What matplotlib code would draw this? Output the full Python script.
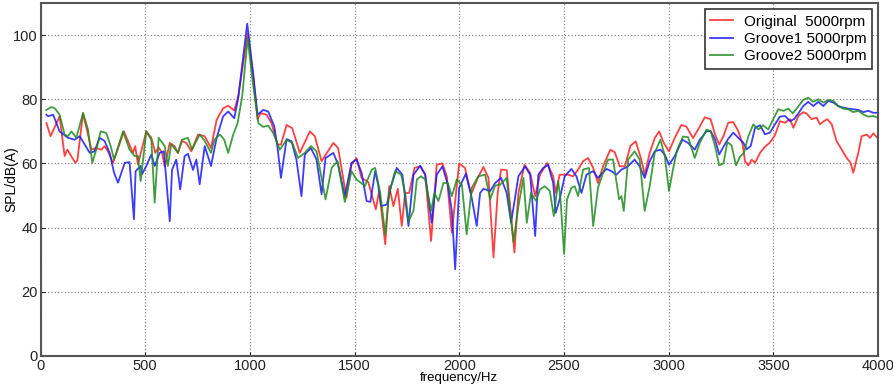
import matplotlib
matplotlib.use("Agg")
import matplotlib.pyplot as plt

plt.rcParams['font.family'] = ['Liberation Sans', 'DejaVu Sans']

# ---- data ----
orig_freq = [28, 48, 91, 115, 128, 166, 176, 203, 243, 266, 290, 306, 322, 346, 398, 441, 452, 465,
             505, 529, 548, 564, 580, 593, 617, 640, 656, 675, 696, 720, 752, 784,
             814, 841, 872, 896, 925, 944, 989, 1016, 1036, 1052, 1079, 1103, 1132, 1148, 1175, 1202,
             1238, 1286, 1310, 1342, 1398, 1421, 1461, 1485, 1509, 1533, 1565, 1601,
             1617, 1646, 1665, 1685, 1706, 1725, 1741, 1760, 1786, 1813, 1837, 1865, 1892, 1919, 1940,
             1964, 1999, 2027, 2056, 2088, 2115, 2139, 2163, 2183, 2199, 2226, 2247, 2263, 2282, 2311,
             2338, 2362, 2385,
             2419, 2448, 2460, 2479, 2499, 2519, 2543, 2567, 2591, 2615, 2639, 2662, 2686, 2721, 2742,
             2766, 2790, 2817, 2842, 2869, 2885, 2909, 2933, 2954, 2976, 3001, 3028, 3060, 3084, 3116,
             3148, 3172,
             3200, 3221, 3241, 3261, 3284, 3308, 3332, 3353, 3364, 3380, 3396, 3412, 3436, 3459, 3483,
             3507, 3531, 3555, 3579, 3595, 3619, 3642, 3658, 3682, 3706, 3722, 3741, 3757, 3778, 3801,
             3825, 3849, 3868, 3881, 3905, 3921, 3945, 3961, 3977, 3996]
orig_spl = [72.6, 68.5, 74.7, 62.3, 64.3, 60.2, 61, 75.7, 64.3, 64.8, 64.3, 65.4, 63.8, 60.2, 70, 63.3, 65.4, 59.7,
            70, 68, 63.3, 65, 63.3, 59, 66.4, 65.4, 63.3, 67, 66.4, 63.8, 69, 68.5,
            64.8, 73.6, 77.2, 78, 76.5, 80.9, 100.5, 87, 73.8, 75.7, 75.2, 72.6, 65.9, 65.9, 72, 71,
            63.3, 70, 68.5, 60.7, 66.4, 64.8, 49.3, 59.7, 61.7, 55.5, 54.2, 45.7,
            51.4, 34.8, 52.9, 46.7, 52.1, 40.5, 50.8, 50.8, 58.6, 59.1, 56.5, 35.8, 59.6, 60, 56,
            38.4, 60, 58.6, 50.3, 55.5, 58.9, 55.5, 30.7, 50.8, 58.1, 57.9, 43.6, 32.2, 50.8, 59.6,
            57, 49.8, 56.5,
            60.1, 56, 50.8, 56.5, 56.5, 56.5, 56, 58.1, 60.7, 61.7, 58.6, 53.9, 59.1, 64.3, 63.5,
            59.1, 59.1, 65.5, 66.9, 61.2, 56.5, 63.3, 67.9, 70, 66.4, 63.8, 67.9, 72, 71.5, 67.9,
            71.5, 74.4,
            73.8, 69, 65.9, 68.5, 72.7, 72.9, 70.1, 65.9, 60.7, 59.4, 61.2, 60.2, 63.3, 65.2, 66.5,
            68.8, 73.2, 72.7, 73.8, 71.1, 74.8, 76, 75.6, 73.8, 74.3, 72.2, 73.2, 73.8, 72.2, 67,
            64.4, 61.8, 60.2, 57.1, 63.3, 68.5, 69, 68, 69.4, 68]

g1_freq = [28, 36, 60, 91, 131, 163, 187, 235, 258, 282, 306, 330, 351, 370, 402, 425, 446, 454,
           478, 484, 505, 529, 545, 569, 589, 617, 628, 648, 667, 688, 704, 728, 744, 760, 784,
           814, 841, 872, 896, 925, 944, 987, 1016, 1036, 1063, 1087, 1116, 1132, 1148, 1175, 1199,
           1222, 1246, 1262, 1291, 1318, 1342, 1361, 1398, 1421, 1453, 1485, 1509, 1533, 1557, 1575,
           1598, 1612, 1627, 1654, 1674, 1701, 1728, 1757, 1781, 1813, 1837, 1868, 1892, 1919, 1945,
           1964, 1980, 1999, 2031, 2059, 2083, 2099, 2115, 2147, 2171, 2199, 2226, 2247, 2282, 2314,
           2338, 2362, 2377, 2400,
           2424, 2448, 2460, 2479, 2503, 2535, 2559, 2583, 2607, 2639, 2662, 2702, 2726, 2750, 2774,
           2801, 2837, 2861, 2885, 2909, 2933, 2960, 2981, 3001, 3028, 3065, 3092, 3124, 3148, 3180,
           3200, 3221, 3241, 3261, 3284, 3308, 3332, 3356, 3372, 3391, 3412, 3436, 3459, 3483, 3507,
           3531, 3555, 3579, 3598, 3619, 3642, 3666, 3690, 3714, 3738, 3762, 3786, 3809, 3833, 3857,
           3881, 3905, 3929, 3953, 3977, 3996]
g1_spl = [75.2, 74.7, 75.2, 70, 68, 67.4, 68.5, 63.3, 63.8, 68, 67, 63.3, 57.1, 54, 60.2, 60.4, 42.6, 57.6,
          59.2, 56.6, 59.2, 62.8, 59.2, 63.3, 63.8, 42, 58, 61.2, 51.9, 62.3, 63, 58, 61.2, 53.5, 65.4,
          59.2, 68, 74.7, 76.2, 74.1, 80.4, 103.6, 87.6, 75.2, 76.7, 76.2, 71.6, 64.8, 55.5, 67.6, 66.9,
          61.2, 49.8, 62.8, 64.8, 61.2, 50.4, 61.7, 63.3, 59.7, 49.8, 60.2, 61.2, 57.1, 48.3, 48,
          57.6, 53.4, 46.7, 47.2, 52.9, 58.6, 56.5, 40.5, 56.5, 59.3, 56.5, 41.5, 56.5, 59.1, 53.4,
          45.2, 27, 52.4, 56.8, 49.3, 40.5, 50.8, 52.1, 51.4, 53.9, 55.5, 50.8, 41.5, 56, 59.1,
          56.5, 37.4, 56.5, 58.6,
          59.6, 53.9, 44.6, 48.8, 56, 58.3, 56, 50.8, 56.5, 57.6, 55.5, 58.3, 57.6, 56.5, 58.1,
          58.9, 61.2, 59.1, 55.5, 60.7, 63.8, 64.3, 62.8, 59.6, 62.2, 67.4, 66.4, 64.3, 67.4, 70,
          70.1, 67.5, 62.8, 65.2, 67.7, 69.6, 68, 66.5, 64.4, 65.4, 71.1, 71.9, 69.1, 69.6, 72.2,
          74.6, 74.8, 73.2, 73.8, 75.6, 77.9, 79.2, 77.9, 79.2, 77.9, 79.5, 79, 77.9, 77.4, 77.1,
          76.9, 76.7, 76, 76.4, 75.8, 75.8]

g2_freq = [28, 52, 68, 91, 115, 131, 147, 171, 203, 227, 247, 266, 287, 314, 335, 351, 394, 425,
           449, 465, 478, 505, 529, 545, 564, 593, 608, 624, 656, 675, 704, 723, 760, 784,
           814, 830, 857, 877, 896, 920, 941, 963, 989, 1016, 1040, 1063, 1087, 1111, 1143, 1175,
           1202, 1230, 1262, 1291, 1318, 1361, 1390, 1418, 1453, 1485, 1509, 1549,
           1582, 1598, 1622, 1646, 1665, 1693, 1722, 1741, 1757, 1781, 1797, 1817, 1837, 1865, 1881,
           1900, 1924, 1945, 1964, 1988, 2012, 2035, 2059, 2091, 2123, 2147, 2171, 2195, 2226, 2258,
           2282, 2306, 2322, 2342, 2366, 2385,
           2408, 2432, 2451, 2472, 2483, 2500, 2514, 2535, 2551, 2567, 2591, 2619, 2639, 2662, 2686,
           2710, 2734, 2763, 2774, 2785, 2806, 2837, 2861, 2885, 2909, 2933, 2960, 2981, 3001, 3020,
           3040, 3068, 3092, 3124, 3148, 3180,
           3200, 3221, 3241, 3261, 3280, 3300, 3321, 3340, 3359, 3380, 3404, 3428, 3451, 3475, 3499,
           3523, 3547, 3571, 3592, 3614, 3642, 3666, 3690, 3714, 3738, 3762, 3786, 3809, 3833, 3857,
           3881, 3905, 3929, 3953, 3977, 3996]
g2_spl = [76.7, 77.6, 77.2, 75.2, 69, 68.5, 70, 68, 75.7, 70.5, 60.2, 64.3, 70, 69.5, 65.4, 61.2, 70, 64.3,
          62.3, 62.3, 54.5, 70, 67.4, 47.8, 68, 65.4, 59.2, 66, 63.3, 67.4, 68, 64.3, 69, 67,
          63.3, 67.4, 69, 67.4, 63.3, 69, 72.6, 80.9, 99, 84, 72.6, 71.4, 71.8, 69.5, 64.3, 67.4,
          66.4, 61.7, 63.3, 65.4, 63.8, 48.8, 58.6, 60.7, 48, 57.6, 55, 53,
          58.1, 58.6, 50.8, 37.9, 50.8, 57.6, 56.5, 50.8, 42, 45.2, 55, 56, 55, 45.2, 50.8,
          48.3, 53.9, 53.9, 49.8, 55, 53.4, 37.9, 52.4, 56, 56.5, 48.8, 53.1, 53.4, 55.5, 35.5,
          46.7, 55.5, 41.5, 50.8, 48.3, 51.9,
          52.9, 51.4, 43.6, 54.5, 48.8, 31.8, 48.8, 52.4, 52.9, 49.8, 58.1, 58.6, 40.5, 52.4, 57,
          61.2, 61.2, 48.8, 49.8, 45.2, 61.2, 63.8, 61.2, 45.2, 52.9, 63.3, 67.4, 62.3, 51.4, 58.1,
          64.3, 68.4, 68.2, 61.7, 66.4, 70.5,
          70.1, 65.4, 59.4, 60, 66.7, 65.6, 59.4, 62.1, 63.3, 68.5, 72.2, 70.6, 71.9, 70.6, 73.8,
          76.9, 76.4, 77.1, 75.6, 77.4, 79.8, 80.5, 79.2, 80, 79, 79.8, 79.5, 77.9, 77.1, 76.9,
          76, 76.4, 75.3, 74.6, 74.8, 74.3]

labels = ['Original  5000rpm', 'Groove1 5000rpm', 'Groove2 5000rpm']
x_ticks = [0, 500, 1000, 1500, 2000, 2500, 3000, 3500, 4000]
y_ticks = [0, 20, 40, 60, 80, 100]

# ---- figure ----
fig = plt.figure(figsize=(8.93, 3.86), dpi=100)
ax = fig.add_axes([0.0454, 0.078, 0.938, 0.914])

ax.plot(orig_freq, orig_spl, color='#ff2020', lw=1.3, alpha=0.85, label=labels[0])
ax.plot(g1_freq, g1_spl, color='#1a1aff', lw=1.3, alpha=0.85, label=labels[1])
ax.plot(g2_freq, g2_spl, color='#1f8c1f', lw=1.3, alpha=0.85, label=labels[2])

ax.set_xlim(0, 4000)
ax.set_ylim(0, 110)
ax.set_xticks(x_ticks)
ax.set_yticks(y_ticks)
ax.tick_params(direction='in', length=3, labelsize=10.5, colors='#222222', pad=2)
ax.grid(True, linestyle=':', color='#888888', lw=0.9)
for s in ax.spines.values():
    s.set_color('#555555')
    s.set_linewidth(1.5)

ax.set_xlabel('frequency/Hz', fontsize=9.5)
ax.set_ylabel('SPL/dB(A)', fontsize=10)
ax.xaxis.set_label_coords(0.5, -0.047)
ax.yaxis.set_label_coords(-0.026, 0.5)

leg = ax.legend(loc='upper right', fontsize=11, frameon=True, fancybox=False,
                borderaxespad=0.4, handlelength=1.5, handletextpad=0.7,
                labelspacing=0.22, borderpad=0.35)
leg.get_frame().set_edgecolor('#333333')
leg.get_frame().set_linewidth(1.2)
leg.get_frame().set_alpha(1)

fig.savefig('out.png', dpi=100)
